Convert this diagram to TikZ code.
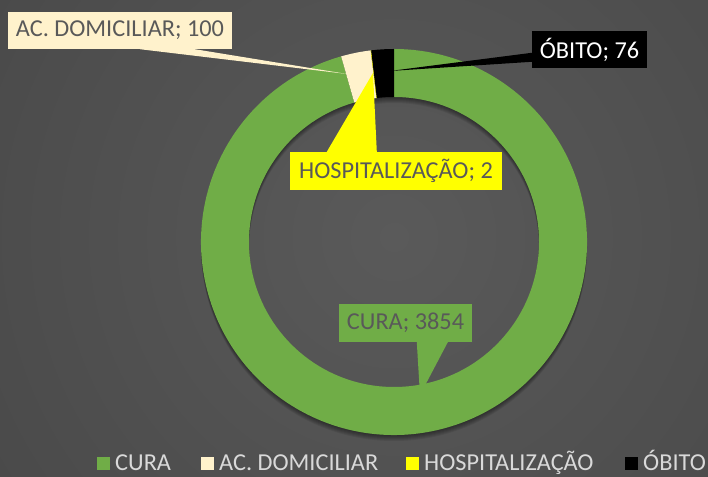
\documentclass[tikz,border=0pt]{standalone}
\usepackage{fontspec}
\setmainfont{Carlito}
\usepackage{tikz}
\usetikzlibrary{calc}
\definecolor{bgin}{HTML}{5A5A5A}
\definecolor{bgout}{HTML}{393939}
\definecolor{curagreen}{HTML}{70AD47}
\definecolor{accream}{HTML}{FFF2CC}
\definecolor{hospyellow}{HTML}{FFFF00}
\definecolor{obitoblack}{HTML}{000000}
\definecolor{labelgray}{HTML}{595959}
\definecolor{legendgray}{HTML}{D9D9D9}
\tikzset{lbl/.style={inner xsep=3bp,inner ysep=0bp,text=labelgray,font=\fontsize{24.3bp}{28bp}\selectfont},
legtext/.style={anchor=base west,inner sep=0bp,text=legendgray,font=\fontsize{24.3bp}{28bp}\selectfont}}
\begin{document}
\begin{tikzpicture}[line cap=round,line join=round,x=1bp,y=1bp]
\useasboundingbox (0,0) rectangle (708,477);
\begin{scope}
\clip (0,0) rectangle (708,477);
\shade[inner color=bgin,outer color=bgout] (394,240) circle (960);
\end{scope}
\foreach \d in {1,...,6}
\fill[black,opacity=0.08,even odd rule] (394,235-\d) circle (193) (394,235-\d) circle (145);
\foreach \a/\b/\c in {105.893/450/curagreen,96.964/105.893/accream,96.786/96.964/hospyellow,90/96.786/obitoblack}
\fill[\c,shift={(394,235)}] (\a:193) arc (\a:\b:193) -- (\b:145) arc (\b:\a:145) -- cycle;
\node[lbl,fill=accream,minimum width=224bp,minimum height=37bp] (acbox) at (120,446.5) {AC. DOMICILIAR; 100};
\coordinate (actip) at (347,403);
\fill[accream] ($(acbox.south west)+(132,0)$) -- ($(acbox.south west)+(187,0)$) -- (actip) -- cycle;
\node[lbl,fill=hospyellow,minimum width=212bp,minimum height=38bp] (hospbox) at (396,306) {HOSPITALIZAÇÃO; 2};
\coordinate (hosptip) at (373,404);
\fill[hospyellow] ($(hospbox.north west)+(37,0)$) -- ($(hospbox.north west)+(87,0)$) -- (hosptip) -- cycle;
\node[lbl,fill=obitoblack,text=white,minimum width=115bp,minimum height=37bp] (obbox) at (589.5,427.5) {ÓBITO; 76};
\coordinate (obtip) at (390,406);
\fill[obitoblack] ($(obbox.north west)+(0,-22)$) -- ($(obbox.north west)+(0,-31)$) -- (obtip) -- cycle;
\node[lbl,fill=curagreen,minimum width=133bp,minimum height=38bp] (curabox) at (405.5,154) {CURA; 3854};
\coordinate (curatip) at (420,82);
\fill[curagreen] ($(curabox.south west)+(78,0)$) -- ($(curabox.south west)+(109,0)$) -- (curatip) -- cycle;
\foreach \sx/\c/\t/\nm in {97/curagreen/CURA/cura,201/accream/AC. DOMICILIAR/ac,406/hospyellow/HOSPITALIZAÇÃO/hosp,625/obitoblack/ÓBITO/ob}{
\fill[\c] (\sx,6.5) rectangle ++(13,13);
\node[legtext] (leg\nm) at (\sx+18,6) {\t};
}
\end{tikzpicture}
\end{document}
